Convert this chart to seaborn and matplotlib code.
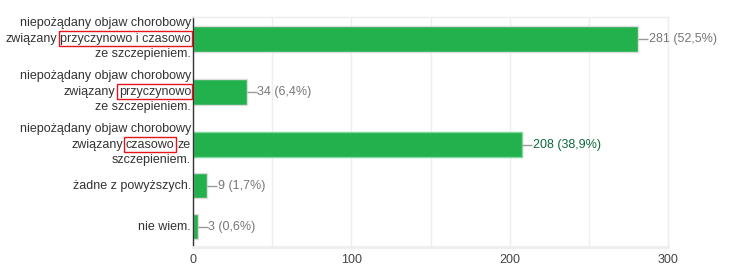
import numpy as np
import pandas as pd
import matplotlib
matplotlib.use("Agg")
import matplotlib.pyplot as plt
import matplotlib.transforms as mtransforms
import seaborn as sns

# ---- data ----
categories = [
    "niepożądany objaw chorobowy\nzwiązany przyczynowo i czasowo\nze szczepieniem.",
    "niepożądany objaw chorobowy\nzwiązany przyczynowo\nze szczepieniem.",
    "niepożądany objaw chorobowy\nzwiązany czasowo ze\nszczepieniem.",
    "żadne z powyższych.",
    "nie wiem.",
]
highlights = ["przyczynowo i czasowo", "przyczynowo", "czasowo", None, None]
counts = [281, 34, 208, 9, 3]
x_ticks = [0, 100, 200, 300]

total = sum(counts)
percents = [100.0 * c / total for c in counts]
value_labels = [f"{c} ({p:.1f}%)".replace(".", ",") for c, p in zip(counts, percents)]

# ---- style ----
sns.set_style("white")
plt.rcParams["font.family"] = ["Liberation Sans", "DejaVu Sans"]

W, H, DPI = 740, 267, 100
fig = plt.figure(figsize=(W / DPI, H / DPI), dpi=DPI)
ax_left, ax_right, ax_top, ax_bot = 193, 668, 17, 247
ax = fig.add_axes([ax_left / W, 1 - ax_bot / H, (ax_right - ax_left) / W, (ax_bot - ax_top) / H])

# row layout derived from number of label lines (units ~ pixels)
n_lines = [c.count("\n") + 1 for c in categories]
pos = [0.0]
for i in range(1, len(categories)):
    gap = 53.0 if (n_lines[i - 1] > 1 and n_lines[i] > 1) else 41.0
    pos.append(pos[-1] + gap)

df = pd.DataFrame({"pos": pos, "count": counts})
min_gap = min(np.diff(pos))
sns.barplot(data=df, x="count", y="pos", orient="h", native_scale=True,
            width=25.5 / min_gap, color="#23b14d", saturation=1,
            edgecolor="#dcdcdc", linewidth=1, ax=ax)
ax.patches[2].set_edgecolor("#7fd69a")

ax.set_xlim(0, 300)
ax.set_ylim(pos[-1] + 20.5, pos[0] - 22)
ax.set_xticks(x_ticks)
ax.set_xticks(np.arange(50, 300, 100), minor=True)
ax.set_xticklabels([str(t) for t in x_ticks])
ax.set_yticks([])
ax.set_xlabel("")
ax.set_ylabel("")
ax.grid(True, axis="x", which="both", color="#eeeeee", linewidth=1)
ax.set_axisbelow(True)
ax.tick_params(axis="x", which="both", length=0, pad=5, labelsize=9, labelcolor="#444444")
for side in ["top", "right"]:
    ax.spines[side].set_color("#eeeeee")
    ax.spines[side].set_linewidth(1)
ax.spines["bottom"].set_color("#eeeeee")
ax.spines["bottom"].set_linewidth(2)
ax.spines["left"].set_color("#333333")
ax.spines["left"].set_linewidth(1)

# value annotations
leader = 10 / ((ax_right - ax_left) / 300)
for i, (c, p, lab) in enumerate(zip(counts, pos, value_labels)):
    col = "#0b6b3a" if i == 2 else "#777777"
    ax.plot([c, c + leader], [p, p], color="#999999", lw=1, clip_on=False,
            solid_capstyle="butt")
    ax.text(c + leader + 0.4, p, lab, va="center", ha="left", fontsize=9,
            color=col, clip_on=False)

# category labels with red boxes
trans = mtransforms.blended_transform_factory(fig.transFigure, ax.transData)
renderer = fig.canvas.get_renderer()
x_right_px = 191.0
space_px = 3.3
line_h = 15.5
for cat, hl, p in zip(categories, highlights, pos):
    lines = cat.split("\n")
    n = len(lines)
    for j, line in enumerate(lines):
        y = p + (j - (n - 1) / 2) * line_h
        if hl and hl in line:
            pre, post = line.split(hl, 1)
            segs = [(pre.strip(), False), (hl, True), (post.strip(), False)]
        else:
            segs = [(line, False)]
        segs = [s for s in segs if s[0]]
        xr = x_right_px
        for text, boxed in reversed(segs):
            kw = {}
            if boxed:
                kw["bbox"] = dict(boxstyle="square,pad=0.12", fc="none",
                                  ec="#e8141b", lw=1)
            t = fig.text(xr / W, y, text, transform=trans, ha="right",
                         va="center", fontsize=9, color="#333333", **kw)
            ext = t.get_window_extent(renderer)
            xr = ext.x0 - space_px

fig.savefig("out.png", dpi=DPI)
